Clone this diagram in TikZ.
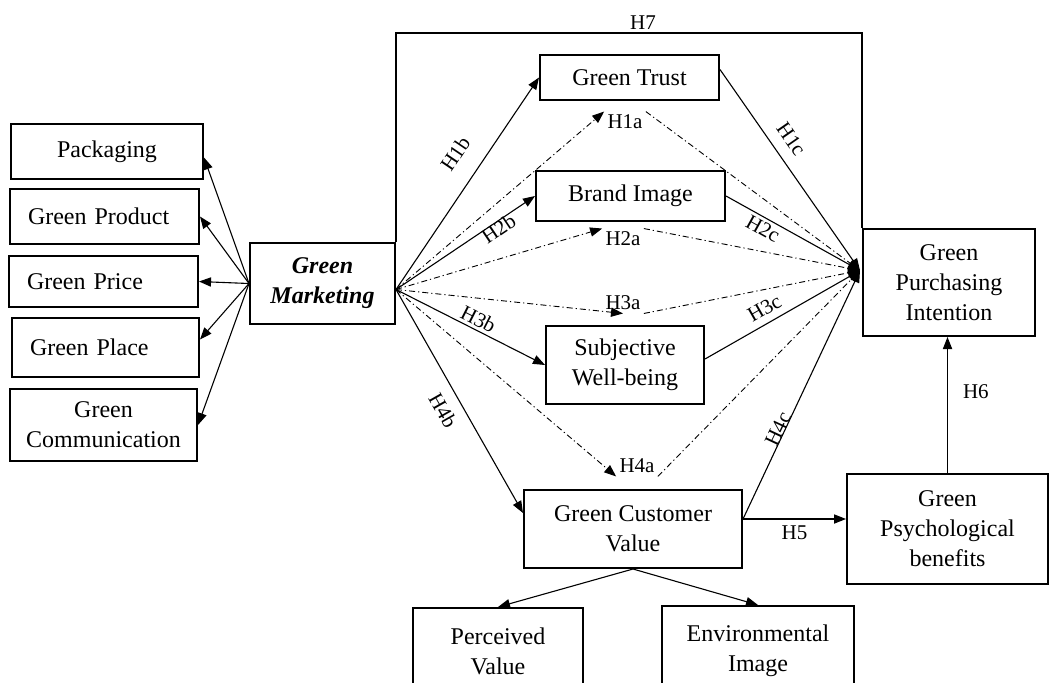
\documentclass[tikz,border=0pt]{standalone}
\usepackage{fontspec}
\setmainfont{Liberation Serif}
\usetikzlibrary{arrows.meta,positioning,calc}

\begin{document}
\begin{tikzpicture}[x=0.5pt,y=-0.5pt,
  b/.style={draw,line width=1pt,align=center,inner sep=0pt,font=\fontsize{12}{15}\selectfont},
  lb/.style={b,align=left,inner xsep=9pt,text width=#1},
  f/.style={-{Triangle[length=6pt,width=4.6pt]},line width=0.55pt},
  m/.style={f,line width=0.45pt,dash pattern=on 3pt off 1.5pt on 0.6pt off 1.5pt},
  lab/.style={font=\fontsize{10.5}{12}\selectfont,inner sep=1.5pt}]
\useasboundingbox (0,0) rectangle (1049,682);
\clip (0,0) rectangle (1049,682);
% dimensions of green marketing
\node[b,minimum width=96pt,minimum height=27.5pt] (pack) at (107,151.5) {Packaging};
\node[lb=76.5pt,minimum height=27.5pt] (prod) at (104.5,216.5) {Green Product};
\node[lb=76.5pt,minimum height=25.5pt] (price) at (103.5,281.5) {Green Price};
\node[lb=75.5pt,minimum height=29.5pt] (place) at (105.5,347.5) {Green Place};
\node[b,minimum width=93.5pt,minimum height=36pt] (comm) at (103.5,425) {Green\\Communication};
\node[b,minimum width=72.5pt,minimum height=40.5pt,font=\fontsize{12}{15}\selectfont\bfseries\itshape] (gm) at (322.5,283.5) {Green\\Marketing};
% mediators
\node[b,minimum width=89.5pt,minimum height=22.5pt] (trust) at (629.5,77.5) {Green Trust};
\node[b,minimum width=94.5pt,minimum height=25pt] (brand) at (630.5,196) {Brand Image};
\node[b,minimum width=79pt,minimum height=39pt] (swb) at (625,365) {Subjective\\Well-being};
\node[b,minimum width=109pt,minimum height=39pt] (gcv) at (633,529) {Green Customer\\Value};
\node[b,minimum width=85pt,minimum height=43.5pt] (pv) at (498,651.5) {Perceived\\Value};
\node[b,minimum width=96pt,minimum height=44.5pt] (env) at (758,650.5) {Environmental\\Image};
% outcome
\node[b,minimum width=86pt,minimum height=53.5pt] (gpi) at (949,282.5) {Green\\Purchasing\\Intention};
\node[b,minimum width=100.5pt,minimum height=55pt] (gpb) at (947.5,529) {Green\\Psychological\\benefits};
% indirect path labels
\node[lab] (l1a) at (625,122) {H1a};
\node[lab] (l2a) at (623,239) {H2a};
\node[lab] (l3a) at (623,303) {H3a};
\node[lab] (l4a) at (637,466) {H4a};
\coordinate (gmout) at ([yshift=-3pt]gm.east);
\coordinate (gpin) at ([xshift=-1pt,yshift=6pt]gpi.west);
\coordinate (h7) at (630,33);
% green marketing to its dimensions
\draw[f] (gm.west) -- ([yshift=-3pt]pack.east); \draw[f] (gm.west) -- (prod.east);
\draw[f] (gm.west) -- (price.east); \draw[f] (gm.west) -- ([yshift=4pt]place.east);
\draw[f] (gm.west) -- (comm.east);
% direct path
\draw[line width=0.55pt] (gm.north east) -- (gm.north east |- h7) -- node[lab,pos=0.53,above]{H7} (gpi.north west |- h7) -- (gpi.north west);
% green marketing to mediators
\draw[f] (gmout) -- node[lab,sloped,pos=0.57,above=8pt]{H1b} (trust.west);
\draw[f] (gmout) -- node[lab,sloped,pos=0.71,below=-2pt]{H2b} (brand.west);
\draw[f] (gmout) -- node[lab,sloped,pos=0.52,above=0pt]{H3b} (swb.west);
\draw[f] (gmout) -- node[lab,sloped,pos=0.5,below=4pt]{H4b} ([yshift=8pt]gcv.west);
\draw[m] (gmout) -- (l1a.north west); \draw[m] (gmout) -- (l2a.north west);
\draw[m] (gmout) -- (l3a.south); \draw[m] (gmout) -- (l4a.south west);
\draw[m] (l1a.north east) -- (gpin); \draw[m] (l2a.north east) -- (gpin);
\draw[m] (l3a.south east) -- (gpin); \draw[m] (l4a.south east) -- (gpin);
% mediators to purchasing intention
\draw[f] ([yshift=4pt]trust.east) -- node[lab,sloped,pos=0.4,above=4pt]{H1c} (gpin);
\draw[f] (brand.east) -- node[lab,sloped,pos=0.315,below=0pt]{H2c} (gpin);
\draw[f] ([yshift=3pt]swb.east) -- node[lab,sloped,pos=0.43,above=2pt]{H3c} (gpin);
\draw[f] ([yshift=5pt]gcv.east) -- node[lab,sloped,pos=0.35,above=-2pt]{H4c} (gpin);
\draw[f] ([yshift=5pt]gcv.east) -- node[lab,below=1.5pt]{H5} ([yshift=5pt]gcv.east -| gpb.west);
\draw[f] (gpb.north) -- node[lab,pos=0.6,right=6pt]{H6} (gpb.north |- gpi.south);
\draw[f] (gcv.south) -- (pv.north); \draw[f] (gcv.south) -- (env.north);
\end{tikzpicture}
\end{document}
